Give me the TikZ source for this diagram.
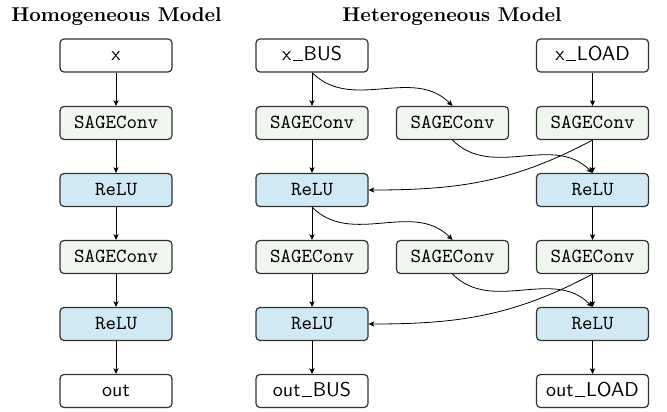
\documentclass[tikz,border=0pt]{standalone}
\usetikzlibrary{arrows.meta}
\definecolor{sagefill}{RGB}{238,246,238}
\definecolor{relufill}{RGB}{209,233,244}
\definecolor{boxline}{RGB}{50,50,50}
\newcommand{\uscore}{\kern0.06em\vrule height0.4pt depth0.1pt width0.5em\kern0.06em}
\begin{document}
\begin{tikzpicture}[x=0.5pt,y=-0.5pt,
  blk/.style={draw=boxline, line width=0.6pt, rounded corners=2pt, minimum width=56pt, minimum height=16.5pt, inner sep=0pt, text height=1.5ex, text depth=0.25ex, font=\normalsize},
  iobox/.style={blk, fill=white, font=\sffamily},
  sagebox/.style={blk, fill=sagefill, font=\ttfamily},
  relubox/.style={blk, fill=relufill, font=\ttfamily},
  ttl/.style={font=\bfseries, anchor=base, inner sep=0pt},
  arr/.style={-{Stealth[length=2.8pt,width=2.6pt,inset=0.6pt]}, line width=0.4pt, black}
]
\useasboundingbox (0,0) rectangle (667,411);

% titles
\node[ttl] (t1) at (116.5,22) {Homogeneous Model};
\node[ttl] (t2) at (452,22) {Heterogeneous Model};

% homogeneous column
\node[iobox]   (hx)  at (116,55.5) {x};
\node[sagebox] (hs1) at (116,123)  {SAGEConv};
\node[relubox] (hr1) at (116,190)  {ReLU};
\node[sagebox] (hs2) at (116,257)  {SAGEConv};
\node[relubox] (hr2) at (116,324)  {ReLU};
\node[iobox]   (ho)  at (116,391)  {out};

% bus column
\node[iobox]   (bx)  at (312,55.5) {x\uscore BUS};
\node[sagebox] (bs1) at (312,123)  {SAGEConv};
\node[relubox] (br1) at (312,190)  {ReLU};
\node[sagebox] (bs2) at (312,257)  {SAGEConv};
\node[relubox] (br2) at (312,324)  {ReLU};
\node[iobox]   (bo)  at (312,391)  {out\uscore BUS};

% middle column
\node[sagebox] (ms1) at (452.5,123) {SAGEConv};
\node[sagebox] (ms2) at (452.5,257) {SAGEConv};

% load column
\node[iobox]   (lx)  at (592.5,55.5) {x\uscore LOAD};
\node[sagebox] (ls1) at (592.5,123)  {SAGEConv};
\node[relubox] (lr1) at (592.5,190)  {ReLU};
\node[sagebox] (ls2) at (592.5,257)  {SAGEConv};
\node[relubox] (lr2) at (592.5,324)  {ReLU};
\node[iobox]   (lo)  at (592.5,391)  {out\uscore LOAD};

% straight arrows
\foreach \a/\b in {hx/hs1,hs1/hr1,hr1/hs2,hs2/hr2,hr2/ho,
                   bx/bs1,bs1/br1,br1/bs2,bs2/br2,br2/bo,
                   lx/ls1,ls1/lr1,lr1/ls2,ls2/lr2,lr2/lo}
  \draw[arr] (\a.south) -- (\b.north);

% curved arrows
\draw[arr] (bx.south)  to[out=-45,in=135] (ms1.north);
\draw[arr] (ms1.south) to[out=-45,in=135] (lr1.north);
\draw[arr] (ls1.south) to[out=-152,in=0]  (br1.east);
\draw[arr] (br1.south) to[out=-45,in=135] (ms2.north);
\draw[arr] (ms2.south) to[out=-45,in=135] (lr2.north);
\draw[arr] (ls2.south) to[out=-152,in=0]  (br2.east);
\end{tikzpicture}
\end{document}
